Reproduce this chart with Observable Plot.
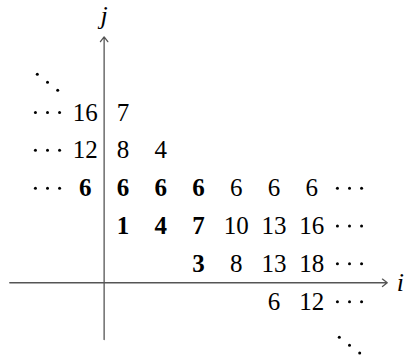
<!DOCTYPE html>
<html>
<head>
<meta charset="utf-8">
<script src="https://cdn.jsdelivr.net/npm/d3@7"></script>
<script src="https://cdn.jsdelivr.net/npm/@observablehq/plot@0.6"></script>
<style>
  html, body { margin: 0; padding: 0; background: #fff; }
  #chart svg { display: block; }
</style>
</head>
<body>
<div id="chart"></div>
<script>
// Grid rows (j) and the values written in each row, starting at column rowStart (i)
const rows = [4, 3, 2, 1, 0, -1];
const rowStart = [-1, -1, -1, 0, 2, 4];
const rowValues = [
  [16, 7],
  [12, 8, 4],
  [6, 6, 6, 6, 6, 6, 6],
  [1, 4, 7, 10, 13, 16],
  [3, 8, 13, 18],
  [6, 12]
];
const rowBoldCount = [0, 0, 4, 3, 1, 0];

// Ellipses
const leftDotsRows = [4, 3, 2];
const leftDotsCol = -2;
const rightDotsRows = [2, 1, 0, -1];
const rightDotsCol = 6;
const diagDots = [{c: -2, r: 4.8}, {c: 6, r: -2.15}];

// Axes (grid units)
const axes = [
  {x1: -3, y1: -0.5, x2: 7, y2: -0.5},
  {x1: -0.5, y1: -2, x2: -0.5, y2: 6}
];
const axisLabels = [
  {c: 7.35, r: -0.5, t: "i"},
  {c: -0.5, r: 6.55, t: "j"}
];

// Build tables
const cells = [];
rows.forEach((r, k) => {
  rowValues[k].forEach((v, m) => {
    cells.push({c: rowStart[k] + m, r, t: String(v), bold: m < rowBoldCount[k]});
  });
});
const ellipsisCells = [
  ...leftDotsRows.map(r => ({c: leftDotsCol, r})),
  ...rightDotsRows.map(r => ({c: rightDotsCol, r}))
];
const hStep = 0.32;
const dots = [];
ellipsisCells.forEach(e => [-1, 0, 1].forEach(k => dots.push({c: e.c + k * hStep, r: e.r})));
diagDots.forEach(e => [-1, 0, 1].forEach(k => dots.push({c: e.c + k * 0.27, r: e.r - k * 0.21})));

const font = "Liberation Serif";

const chart = Plot.plot({
  width: 404,
  height: 361,
  margin: 0,
  x: {domain: [-2, 6], range: [47, 349], axis: null},
  y: {domain: [-2, 5], range: [339, 74.2], axis: null},
  marks: [
    Plot.arrow(axes, {x1: "x1", y1: "y1", x2: "x2", y2: "y2", stroke: "#555", strokeWidth: 1.3, headLength: 7, headAngle: 75}),
    Plot.text(cells.filter(d => !d.bold), {x: "c", y: "r", text: "t", fontSize: 25, fontFamily: font, fill: "#000"}),
    Plot.text(cells.filter(d => d.bold), {x: "c", y: "r", text: "t", fontSize: 25, fontFamily: font, fontWeight: "bold", fill: "#000"}),
    Plot.dot(dots, {x: "c", y: "r", r: 1.5, fill: "#000", stroke: null}),
    Plot.text(axisLabels, {x: "c", y: "r", text: "t", fontSize: 26, fontFamily: font, fontStyle: "italic", fill: "#000"})
  ]
});
document.getElementById("chart").appendChild(chart);
</script>
</body>
</html>
